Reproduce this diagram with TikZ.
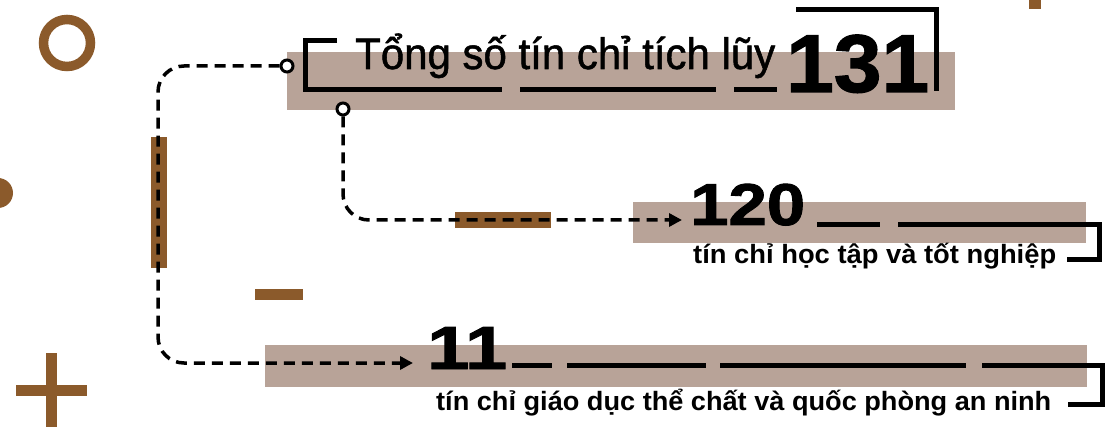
\documentclass[tikz,border=0pt]{standalone}
\usepackage{fontspec}
\setmainfont{Liberation Sans}
\newfontfamily\titlefam[FakeBold=1.2]{Liberation Sans}
\newfontfamily\numfam[FakeBold=1.5]{Liberation Sans Bold}
\usetikzlibrary{arrows.meta}
\definecolor{accent}{RGB}{139,90,43}
\definecolor{band}{RGB}{184,163,152}
\begin{document}
\begin{tikzpicture}[x=1pt,y=-1pt,
  bandbox/.style={fill=band, draw=none},
  accentbar/.style={fill=accent, draw=none},
  bracket/.style={line width=5pt, line join=miter},
  conn/.style={line width=3.5pt, dash pattern=on 11pt off 7pt, rounded corners=26pt},
  joint/.style={circle, draw, line width=3pt, fill=white, minimum size=12pt, inner sep=0pt},
  arrowtip/.style={-{Triangle[length=13pt,width=13pt]}},
  txt/.style={inner sep=0pt, anchor=base west},
  titlefont/.style={font=\fontsize{44}{44}\titlefam},
  subfont/.style={font=\fontsize{26.5}{26.5}\selectfont\bfseries}]
\useasboundingbox (0,0) rectangle (1110,427);
% bands
\fill[bandbox] (287,52) rectangle (955,110);
\fill[bandbox] (633,202) rectangle (1086,243);
\fill[bandbox] (265,345) rectangle (1087,387);
% accents
\draw[accent, line width=9.5pt] (67,43) circle[radius=23.5];
\fill[accent] (-2,193) circle[radius=15];
\fill[accentbar] (151,137) rectangle (167,268);
\fill[accentbar] (255,289) rectangle (303,300);
\fill[accentbar] (455,212) rectangle (551,228);
\fill[accentbar] (1029,0) rectangle (1041,9);
\fill[accentbar] (46,353) rectangle (57,427);
\fill[accentbar] (16,385) rectangle (87,396);
% connectors
\node[joint] (j1) at (287,66) {};
\node[joint] (j2) at (343,109) {};
\coordinate (t11) at (413,363);
\coordinate (t120) at (682,220);
\draw[conn, arrowtip] (j1.west) -- (158,66) -- (158,363) -- (t11);
\draw[conn, arrowtip] (j2.south) -- (343,220) -- (t120);
% brackets
\draw[bracket] (337,40.5) -- (305.5,40.5) -- (305.5,89.5) -- (502,89.5);
\draw[bracket] (520,89.5) -- (716,89.5);
\draw[bracket] (734,89.5) -- (777,89.5);
\draw[bracket] (796,10) -- (936.5,10) -- (936.5,91);
\draw[bracket] (817,224.5) -- (880,224.5);
\draw[bracket] (898,224.5) -- (1099.5,224.5) -- (1099.5,259.5) -- (1067,259.5);
\draw[bracket] (512,365.5) -- (552,365.5);
\draw[bracket] (567,365.5) -- (706,365.5);
\draw[bracket] (720,365.5) -- (966,365.5);
\draw[bracket] (982,365.5) -- (1102,365.5) -- (1102,404.5) -- (1068,404.5);
% texts
\node[txt, titlefont] (title) at (355,69) {\resizebox{420pt}{\height}{Tổng số tín chỉ tích lũy}};
\node[txt, font=\fontsize{82}{82}\numfam] (n131) at (786,92) {\resizebox{143pt}{\height}{131}};
\node[txt, font=\fontsize{59}{59}\numfam] (n120) at (690,225) {\resizebox{115pt}{\height}{120}};
\node[txt, font=\fontsize{61}{61}\numfam] (n11) at (427,369) {\resizebox{80pt}{\height}{11}};
\node[txt, subfont] (sub1) at (693,264) {\resizebox{363pt}{\height}{tín chỉ học tập và tốt nghiệp}};
\node[txt, subfont] (sub2) at (436,410) {\resizebox{615pt}{\height}{tín chỉ giáo dục thể chất và quốc phòng an ninh}};
\end{tikzpicture}
\end{document}
